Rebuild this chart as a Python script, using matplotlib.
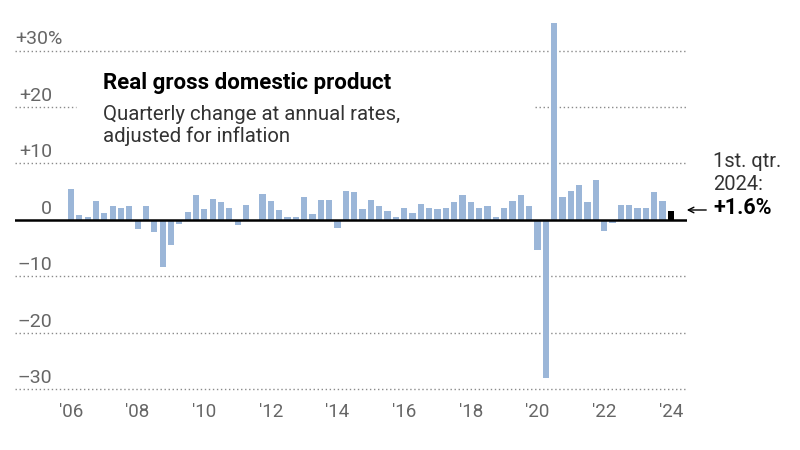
import matplotlib
matplotlib.use("Agg")
import matplotlib.pyplot as plt
import matplotlib.transforms as mtransforms

# Quarterly real GDP change, annualized (%), 2006 Q1 .. 2024 Q1
gdp_2006 = [5.4, 0.9, 0.5, 3.4]
gdp_2007 = [1.2, 2.5, 2.2, 2.5]
gdp_2008 = [-1.6, 2.4, -2.1, -8.4]
gdp_2009 = [-4.5, -0.7, 1.4, 4.4]
gdp_2010 = [1.9, 3.8, 3.1, 2.1]
gdp_2011 = [-0.9, 2.7, -0.1, 4.6]
gdp_2012 = [3.4, 1.8, 0.6, 0.5]
gdp_2013 = [4.0, 1.1, 3.5, 3.5]
gdp_2014 = [-1.4, 5.2, 5.0, 1.9]
gdp_2015 = [3.5, 2.5, 1.5, 0.6]
gdp_2016 = [2.2, 1.3, 2.8, 2.2]
gdp_2017 = [2.0, 2.2, 3.1, 4.5]
gdp_2018 = [3.2, 2.1, 2.4, 0.5]
gdp_2019 = [2.1, 3.4, 4.5, 2.5]
gdp_2020 = [-5.3, -28.0, 34.8, 4.1]
gdp_2021 = [5.2, 6.2, 3.2, 7.0]
gdp_2022 = [-2.0, -0.6, 2.7, 2.6]
gdp_2023 = [2.2, 2.1, 4.9, 3.4]
gdp_2024 = [1.6]

growth = (gdp_2006 + gdp_2007 + gdp_2008 + gdp_2009 + gdp_2010 + gdp_2011
          + gdp_2012 + gdp_2013 + gdp_2014 + gdp_2015 + gdp_2016 + gdp_2017
          + gdp_2018 + gdp_2019 + gdp_2020 + gdp_2021 + gdp_2022 + gdp_2023
          + gdp_2024)

year_labels = ["'06", "'08", "'10", "'12", "'14", "'16", "'18", "'20", "'22", "'24"]
grid_values = [20, 10, 0, -10, -20, -30]
grid_labels = ["+20", "+10", "0", "\u201310", "\u201320", "\u201330"]

plt.rcParams["font.family"] = ["Roboto", "DejaVu Sans"]

BLUE = "#9bb6d8"
GRAY = "#666666"

fig = plt.figure(figsize=(8, 4.5), dpi=100)
ax = fig.add_axes([15 / 800, 55 / 450, 672 / 800, 380 / 450])

x = list(range(len(growth)))
colors = [BLUE] * (len(growth) - 1) + ["black"]
ax.bar(x, growth, width=0.74, color=colors, zorder=3)

ax.set_xlim(-6.72, 73.95)
ax.set_ylim(-31.0, 36.3)

# dotted gridlines; +20 is broken where the title sits
dot = (0, (1, 1.9))
for v in [30] + grid_values:
    if v == 0:
        continue
    if v == 20:
        ax.axhline(v, 0, 0.091, color="#8a8a8a", lw=1, ls=dot, zorder=1)
        ax.axhline(v, 0.774, 1, color="#8a8a8a", lw=1, ls=dot, zorder=1)
    else:
        ax.axhline(v, color="#8a8a8a", lw=1, ls=dot, zorder=1)
ax.axhline(0, color="black", lw=1.8, zorder=4)

# y labels sitting above their gridlines
trans = mtransforms.blended_transform_factory(ax.transAxes, ax.transData)
for v, lab in zip(grid_values, grid_labels):
    ax.text(0.055, v + 1.1, lab, transform=trans, ha="right", va="baseline",
            fontsize=14, color=GRAY)
ax.text(0.0, 31.1, "+30%", transform=trans, ha="left", va="baseline",
        fontsize=14, color=GRAY)

ax.set_xticks(x[::8])
ax.set_xticklabels(year_labels, fontsize=13.5, color=GRAY)
ax.tick_params(axis="x", length=0, pad=6)
ax.set_yticks([])
for s in ax.spines.values():
    s.set_visible(False)

# title block
fig.text(103 / 800, 1 - 89 / 450, "Real gross domestic product",
         fontsize=16, fontweight="bold", color="black", va="baseline")
fig.text(103 / 800, 1 - 120 / 450, "Quarterly change at annual rates,",
         fontsize=14.7, color="#333333", va="baseline")
fig.text(103 / 800, 1 - 142 / 450, "adjusted for inflation",
         fontsize=14.7, color="#333333", va="baseline")

# latest quarter callout
fig.text(713 / 800, 1 - 167 / 450, "1st. qtr.", fontsize=14.5, color="#333333",
         va="baseline")
fig.text(713 / 800, 1 - 190 / 450, "2024:", fontsize=14.5, color="#333333",
         va="baseline")
fig.text(713 / 800, 1 - 214 / 450, "+{:.1f}%".format(growth[-1]), fontsize=15.5,
         fontweight="bold", color="black", va="baseline")
ax.annotate("", xy=(684, 450 - 210), xytext=(709, 450 - 210),
            xycoords="figure pixels", textcoords="figure pixels",
            arrowprops=dict(arrowstyle="->", color="black", lw=1))

fig.savefig("out.png", dpi=100)
